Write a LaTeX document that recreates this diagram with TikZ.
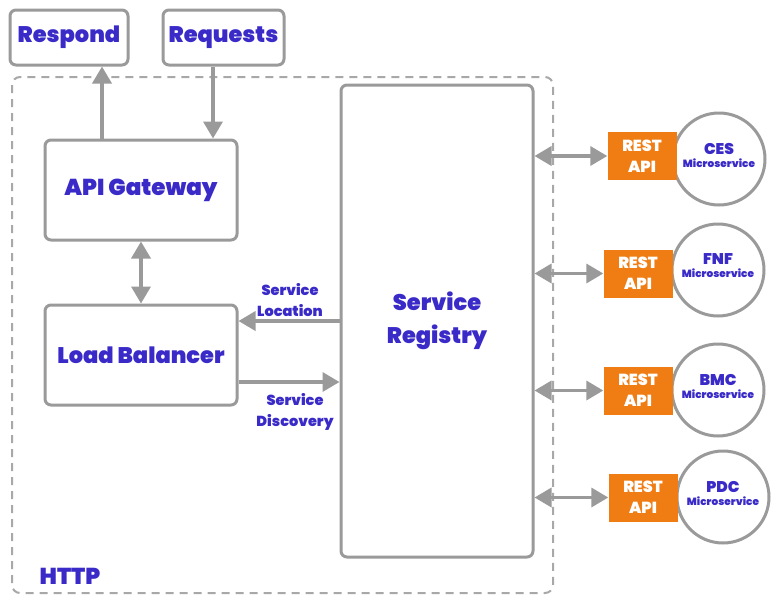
\documentclass[tikz,border=0pt]{standalone}
\usepackage{fontspec}
\setmainfont{Poppins}[BoldFont={Poppins Black}]
\usetikzlibrary{arrows.meta}
\definecolor{tblue}{HTML}{3A2BC8}
\definecolor{lgray}{HTML}{9A9A9A}
\definecolor{dgray}{HTML}{A8A8A8}
\definecolor{rorange}{HTML}{EF7D14}
\begin{document}
\begin{tikzpicture}[x=1pt,y=-1pt,
  box/.style={draw=lgray, line width=3pt, rounded corners=6pt, fill=white, text=tblue,
    font=\bfseries\fontsize{22.5}{27}\selectfont, inner sep=0pt, align=center},
  restbox/.style={fill=rorange, text=white, font=\bfseries\fontsize{16}{21}\selectfont,
    minimum width=69pt, minimum height=48pt, inner sep=0pt, align=center},
  svc/.style={circle, draw=lgray, line width=3pt, fill=white, minimum size=92pt, inner sep=0pt},
  svctext/.style={text=tblue, align=center},
  arr/.style={draw=lgray, line width=3.5pt, -{Triangle[length=17pt,width=19pt]}},
  darr/.style={draw=lgray, line width=3.5pt, {Triangle[length=17pt,width=19pt]}-{Triangle[length=17pt,width=19pt]}},
  lbl/.style={text=tblue, font=\bfseries\fontsize{14.5}{21}\selectfont, align=center}
]
\useasboundingbox (0,0) rectangle (779,603);
\fill[white] (0,0) rectangle (779,603);

% container
\draw[dgray, line width=2pt, dash pattern=on 8pt off 6pt, rounded corners=8pt] (12,77) rectangle (553,593);
\node[text=tblue, font=\bfseries\fontsize{23}{26}\selectfont] (http) at (70,576) {HTTP};

% boxes
\node[box, minimum width=118pt, minimum height=55pt] (resp) at (69,37.5) {Respond};
\node[box, minimum width=121pt, minimum height=55pt] (req) at (223.5,37.5) {Requests};
\node[box, minimum width=192pt, minimum height=100pt, font=\bfseries\fontsize{23}{27}\selectfont] (gw) at (141,190) {API Gateway};
\node[box, minimum width=192pt, minimum height=100pt] (lb) at (141,355) {Load Balancer};
\node[box, minimum width=192pt, minimum height=472pt, font=\bfseries\fontsize{22.5}{33}\selectfont] (reg) at (437,321) {Service\\Registry};

% top arrows
\draw[arr] ([xshift=-39pt]gw.north) -- ([xshift=33pt]resp.south);
\draw[arr] ([xshift=-10.5pt]req.south) -- ([xshift=72pt]gw.north);
\draw[darr] (gw.south) -- (lb.north);

% LB <-> registry
\coordinate (sl) at ([yshift=34pt]lb.east);
\coordinate (sd) at ([yshift=-27pt]lb.east);
\draw[arr] (sl -| reg.west) -- (sl);
\draw[arr] (sd) -- (sd -| reg.west);
\node[lbl] (sll) at (290,300) {Service\\Location};
\node[lbl] (sdl) at (295,412) {Service\\Discovery};

% microservices
\node[svc] (c1) at (719,159) {};
\node[svc] (c2) at (718,270) {};
\node[svc] (c3) at (718,390) {};
\node[svc] (c4) at (723,497) {};
\foreach \i/\t in {1/CES,2/FNF,3/BMC,4/PDC}{
  \node[svctext] (t\i) at ([yshift=4pt]c\i.center) {{\fontsize{15.5}{18}\bfseries\selectfont \t}\\[1pt]{\fontsize{10.5}{13}\bfseries\selectfont Microservice}};
}

\node[restbox] (r1) at (642,156) {REST\\API};
\node[restbox] (r2) at (638,273.5) {REST\\API};
\node[restbox] (r3) at (638,390.5) {REST\\API};
\node[restbox] (r4) at (643,497.5) {REST\\API};

\foreach \i in {1,...,4}{
  \draw[darr] (r\i.west -| reg.east) -- (r\i.west);
}
\end{tikzpicture}
\end{document}
